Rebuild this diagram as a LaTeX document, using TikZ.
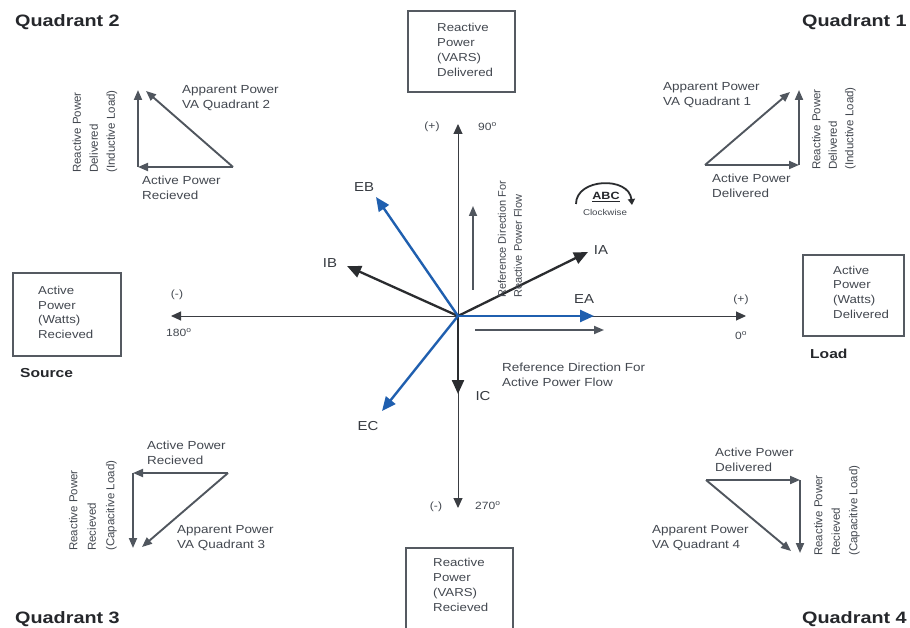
\documentclass[tikz,border=0pt]{standalone}
\usepackage{fontspec}
\setmainfont{Liberation Sans}
\newfontfamily\lab[FakeStretch=1.15]{Liberation Sans}
\newfontfamily\labrot{Liberation Sans}
\newfontfamily\qfont[FakeStretch=1.2]{Liberation Sans}
\usetikzlibrary{arrows.meta}
\definecolor{txt}{HTML}{434850}
\definecolor{lbl}{HTML}{363A40}
\definecolor{qtxt}{HTML}{25272B}
\definecolor{axisc}{HTML}{3A3D42}
\definecolor{vecdark}{HTML}{2A2C2F}
\definecolor{vecblue}{HTML}{1F5FAF}
\definecolor{refc}{HTML}{50565E}
\definecolor{boxc}{HTML}{555A61}
\tikzset{
  t/.style={font=\lab\fontsize{11.7}{15}\selectfont, text=txt, inner sep=0pt, anchor=west, align=left},
  tbox/.style={t, font=\lab\fontsize{11.5}{#1}\selectfont},
  trot/.style={font=\labrot\fontsize{11.5}{#1}\selectfont, text=txt, inner sep=0pt, anchor=west, align=left, rotate=90},
  axlab/.style={font=\lab\fontsize{10.5}{12}\selectfont, text=txt, inner sep=0pt},
  veclab/.style={font=\lab\fontsize{13}{15}\selectfont, text=lbl, inner sep=0pt},
  quadlab/.style={font=\qfont\bfseries\fontsize{16.5}{18}\selectfont, text=qtxt, inner sep=0pt, anchor=west},
  endlab/.style={font=\qfont\bfseries\fontsize{13}{15}\selectfont, text=qtxt, inner sep=0pt, anchor=west},
  axisline/.style={draw=axisc, line width=1pt},
  axtip/.style={-{Triangle[length=10pt,width=9pt]}},
  vdark/.style={draw=vecdark, line width=2.3pt, -{Triangle[length=14pt,width=12pt]}},
  vblue/.style={draw=vecblue, line width=2.4pt, -{Triangle[length=14pt,width=12pt]}},
  refarrow/.style={draw=refc, line width=1.7pt, -{Triangle[length=10pt,width=8pt]}},
  qarrow/.style={draw=refc, line width=1.9pt, -{Triangle[length=10pt,width=8pt]}},
  boxline/.style={draw=boxc, line width=1.3pt},
}
\begin{document}
\begin{tikzpicture}[x=1pt, y=-1pt]
\useasboundingbox (0,0) rectangle (910,628);
\fill[white] (0,0) rectangle (910,628);

% coordinates
\coordinate (O) at (458,316);
\coordinate (L180) at (171,316);
\coordinate (R0) at (746,316);
\coordinate (T90) at (458,124);
\coordinate (B270) at (458,508);
\coordinate (EBt) at (376,197);
\coordinate (IBt) at (347,266);
\coordinate (IAt) at (588,252);
\coordinate (EAt) at (594,316);
\coordinate (ICt) at (458,394);
\coordinate (ECt) at (382,411);
\coordinate (rvS) at (473,290);
\coordinate (rvE) at (473,206);
\coordinate (rhS) at (475,330);
\coordinate (rhE) at (604,330);

% axes
\draw[axisline, axtip] (O) -- (R0);
\draw[axisline, axtip] (O) -- (L180);
\draw[axisline, axtip] (O) -- (T90);
\draw[axisline, axtip] (O) -- (B270);

% reference arrows
\draw[refarrow] (rvS) -- (rvE);
\draw[refarrow] (rhS) -- (rhE);

% vectors
\draw[vdark] (O) -- (IBt);
\draw[vdark] (O) -- (IAt);
\draw[vdark] (O) -- (ICt);
\draw[vblue] (O) -- (EBt);
\draw[vblue] (O) -- (EAt);
\draw[vblue] (O) -- (ECt);

% vector labels
\node[veclab] (lEB) at (364,187) {EB};
\node[veclab] (lIB) at (330,263) {IB};
\node[veclab] (lIA) at (601,250) {IA};
\node[veclab] (lEA) at (584,299) {EA};
\node[veclab] (lIC) at (483,396) {IC};
\node[veclab] (lEC) at (368,426) {EC};

% axis labels
\node[axlab] (p90) at (432,127) {(+)};
\node[axlab, anchor=west] (d90) at (478,127) {90\textsuperscript{o}};
\node[axlab] (m180) at (177,295) {(-)};
\node[axlab, anchor=west] (d180) at (166,333) {180\textsuperscript{o}};
\node[axlab] (p0) at (741,300) {(+)};
\node[axlab, anchor=west] (d0) at (735,336) {0\textsuperscript{o}};
\node[axlab] (m270) at (436,507) {(-)};
\node[axlab, anchor=west] (d270) at (475,506) {270\textsuperscript{o}};

% reference texts
\node[trot=16, font=\labrot\fontsize{11}{16}\selectfont] (refv) at (510,298) {Reference Direction For\\Reactive Power Flow};
\node[t] (refh) at (502,374.5) {Reference Direction For\\Active Power Flow};

% boxes
\node[boxline, draw, minimum width=107pt, minimum height=81pt, inner sep=0pt] (topbox) at (461.5,51.5) {};
\node[tbox=15] (toptxt) at (437,49.5) {Reactive\\Power\\(VARS)\\Delivered};
\node[boxline, draw, minimum width=108pt, minimum height=83pt, inner sep=0pt] (leftbox) at (67,314.5) {};
\node[tbox=14.5] (lefttxt) at (38,312.5) {Active\\Power\\(Watts)\\Recieved};
\node[boxline, draw, minimum width=101pt, minimum height=81pt, inner sep=0pt] (rightbox) at (853.5,295.5) {};
\node[tbox=14.7] (righttxt) at (833,292) {Active\\Power\\(Watts)\\Delivered};
\coordinate (bb1) at (406,630);
\coordinate (bb2) at (406,548);
\coordinate (bb3) at (513,548);
\coordinate (bb4) at (513,630);
\draw[boxline] (bb1) -- (bb2) -- (bb3) -- (bb4);
\node[tbox=15] (bottxt) at (433,584.5) {Reactive\\Power\\(VARS)\\Recieved};

% quadrant / end labels
\node[quadlab] (Q2) at (15,22) {Quadrant 2};
\node[quadlab] (Q1) at (802,22) {Quadrant 1};
\node[quadlab] (Q3) at (15,619) {Quadrant 3};
\node[quadlab] (Q4) at (802,619) {Quadrant 4};
\node[endlab] (src) at (20,373) {Source};
\node[endlab] (load) at (810,354) {Load};

% ABC clockwise
\coordinate (abcS) at (576,204);
\coordinate (abcE) at (632,205);
\draw[draw=vecdark, line width=1.8pt, -{Triangle[length=6pt,width=7pt]}] (abcS) .. controls (576,178) and (629,176) .. (abcE);
\node[font=\qfont\bfseries\fontsize{10.5}{12}\selectfont, text=qtxt, inner sep=0pt] (abc) at (606,197) {\underline{ABC}};
\node[font=\lab\fontsize{8.5}{10}\selectfont, text=txt, inner sep=0pt] (clk) at (605,212) {Clockwise};

% Quadrant 2 triangle
\coordinate (q2R) at (233,167);
\coordinate (q2L) at (138,167);
\coordinate (q2T) at (138,90);
\coordinate (q2H) at (146,91);
\draw[qarrow] (q2R) -- (q2L);
\draw[qarrow] (q2L) -- (q2T);
\draw[qarrow] (q2R) -- (q2H);
\node[t] (q2a) at (182,98.5) {Apparent Power\\VA Quadrant 2};
\node[t] (q2b) at (142,187.5) {Active Power\\Recieved};
\node[trot=17] (q2c) at (95,173) {Reactive Power\\Delivered\\(Inductive Load)};

% Quadrant 1 triangle
\coordinate (q1L) at (705,165);
\coordinate (q1R) at (799,165);
\coordinate (q1T) at (799,90);
\coordinate (q1H) at (790,92);
\draw[qarrow] (q1L) -- (q1R);
\draw[qarrow] (q1R) -- (q1T);
\draw[qarrow] (q1L) -- (q1H);
\node[t] (q1a) at (663,95) {Apparent Power\\VA Quadrant 1};
\node[t] (q1b) at (712,185.5) {Active Power\\Delivered};
\node[trot=16.5] (q1c) at (834,170) {Reactive Power\\Delivered\\(Inductive Load)};

% Quadrant 3 triangle
\coordinate (q3R) at (228,473);
\coordinate (q3L) at (133,473);
\coordinate (q3B) at (133,548);
\coordinate (q3H) at (142,547);
\draw[qarrow] (q3R) -- (q3L);
\draw[qarrow] (q3L) -- (q3B);
\draw[qarrow] (q3R) -- (q3H);
\node[t] (q3a) at (147,453) {Active Power\\Recieved};
\node[t] (q3b) at (177,538) {Apparent Power\\VA Quadrant 3};
\node[trot=18.5] (q3c) at (93,551) {Reactive Power\\Recieved\\(Capacitive Load)};

% Quadrant 4 triangle
\coordinate (q4L) at (706,480);
\coordinate (q4R) at (800,480);
\coordinate (q4B) at (800,553);
\coordinate (q4H) at (791,551);
\draw[qarrow] (q4L) -- (q4R);
\draw[qarrow] (q4R) -- (q4B);
\draw[qarrow] (q4L) -- (q4H);
\node[t] (q4a) at (715,460) {Active Power\\Delivered};
\node[t] (q4b) at (652,538.5) {Apparent Power\\VA Quadrant 4};
\node[trot=17.5] (q4c) at (837,556) {Reactive Power\\Recieved\\(Capacitive Load)};
\end{tikzpicture}
\end{document}
